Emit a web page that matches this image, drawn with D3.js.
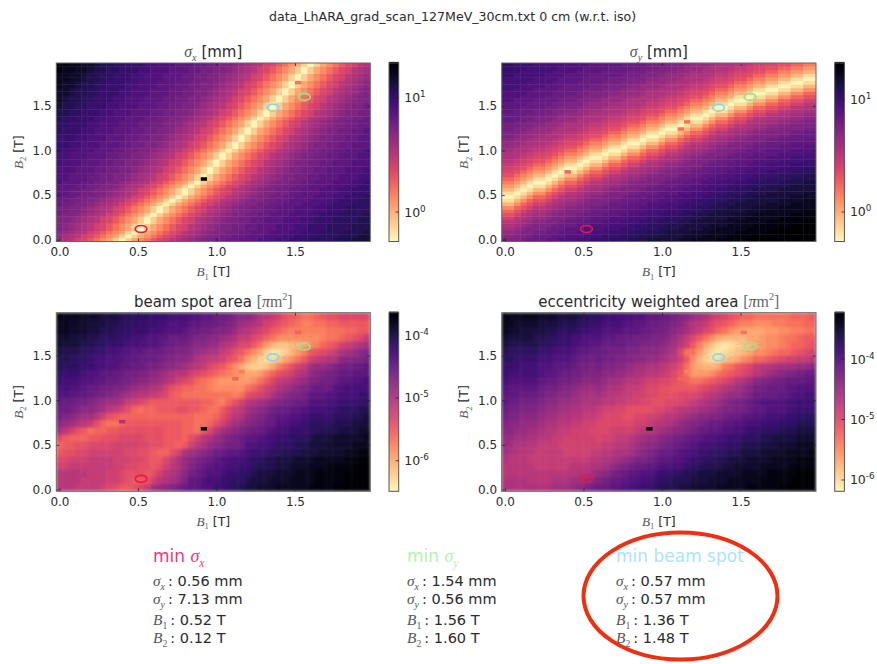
<!DOCTYPE html>
<html><head><meta charset="utf-8">
<script src="https://cdn.jsdelivr.net/npm/d3@7/dist/d3.min.js"></script>
<style>
html,body{margin:0;padding:0;background:#fff}
svg{display:block}
text{font-family:"DejaVu Sans",sans-serif;fill:#2b2b2b}
.math{font-family:"Liberation Serif",serif;font-style:italic;fill:#555}
.rm{font-family:"Liberation Serif",serif;fill:#666}
.odd{filter:blur(0.45px)}
</style></head><body>
<svg id="c" width="877" height="664"></svg>
<script>
// Levels 0..z = position on each panel's log colour range.
// sigma_x: rows bottom to top, 50 columns per row, step 0.04 T
const sigmaXRows=[
"jihfeca8630368acefhijklmmnnoopppqqqrrsssttttuuuvvv",
"kjihfeca8630368acefhijklmmnnoopppqqqrrsssttttuuuvv",
"lkjihfeca8630368acefhijklmmnnoopppqqqrrsssttttuuuv",
"mlkjihfeca8630368acefhijklmmnnoopppqqqrrsssttttuuu",
"mlkjihfeca8630368acefhijklmmnnoopppqqqrrsssttttuuu",
"mmlkjihfeca8630368acefhijklmmnnoopppqqqrrsssttttuu",
"mmlkjihfeca8630368acefhijklmmnnoopppqqqrrsssttttuu",
"nmmlkjihfeca8630368acefhijklmmnnoopppqqqrrsssttttu",
"nnmmlkjihfeca8630368acefhijklmmnnoopppqqqrrsssttt",
"nnmmlkjihfeca8630368acefhijklmmnnoopppqqqrrsssttt",
"onnmmlkjihfeca8630368acefhijklmmnnoopppqqqrrsssttt",
"oonnmmlkjihfeca8630368acefhijklmmnnoopppqqqrrssstt",
"poonnmmlkjihfeca8630368acefhijklmmnnoopppqqqrrssst",
"ppoonnmmlkjihfeca8630368acefhijklmmnnoopppqqqrrsss",
"ppoonnmmlkjihfeca8630368acefhijklmmnnoopppqqqrrsss",
"pppoonnmmlkjihfeca8630368acefhijklmmnnoopppqqqrrss",
"qpppoonnmmlkjihfeca8630368acefhijklmmnnoopppqqqrrs",
"qqpppoonnmmlkjihfeca8630368acefhijklmmnnoopppqqqrr",
"qqpppoonnmmlkjihfeca8630368acefhijklmmnnoopppqqqrr",
"qqqpppoonnmmlkjihfeca8630368acefhijklmmnnoopppqqqr",
"qqqpppoonnmmlkjihfeca8630368acefhijklmmnnoopppqqqr",
"rqqqpppoonnmmlkjihfeca8630368acefhijklmmnnoopppqqq",
"rqqqpppoonnmmlkjihfeca8630368acefhijklmmnnoopppqqq",
"rrqqqpppoonnmmlkjihfeca8630368acefhijklmmnnoopppqq",
"rrqqqpppoonnmmlkjihfeca8630368acefhijklmmnnoopppqq",
"srrqqqpppoonnmmlkjihfeca8630368acefhijklmmnnoopppq",
"ssrrqqqpppoonnmmlkjihfeca8630368acefhijklmmnnooppp",
"ssrrqqqpppoonnmmlkjihfeca8630368acefhijklmmnnooppp",
"sssrrqqqpppoonnmmlkjihfeca8630368acefhijklmmnnoopp",
"sssrrqqqpppoonnmmlkjihfeca8630368acefhijklmmnnoopp",
"tsssrrqqqpppoonnmmlkjihfeca8630368acefhijklmmnnoop",
"tsssrrqqqpppoonnmmlkjihfeca8630368acefhijklmmnnoop",
"ttsssrrqqqpppoonnmmlkjihfeca8630368acefhijklmmnnoo",
"ttsssrrqqqpppoonnmmlkjihfeca8630368acefhijklmmnnoo",
"uttsssrrqqqpppoonnmmlkjihfeca8630368acefhijklmmnno",
"uuttsssrrqqqpppoonnmmlkjihfeca8630368acefhijklmmnn",
"uuttsssrrqqqpppoonnmmlkjihfeca8630368acefhijklmmnn",
"vuuttsssrrqqqpppoonnmmlkjihfeca8630368acefhijklmmn",
"vuuttsssrrqqqpppoonnmmlkjihfeca8630368acefhijklmmn",
"wvuuttsssrrqqqpppoonnmmlkjihfeca8630368acefhijklmm",
"wvuuttsssrrqqqpppoonnmmlkjihfeca8630368acefhijklmm",
"wwvuuttsssrrqqqpppoonnmmlkjihfeca8630368acefhijklm",
"wwvuuttsssrrqqqpppoonnmmlkjihfeca8630368acefhijklm",
"xwwvuuttsssrrqqqpppoonnmmlkjihfeca8630368acefhijkl",
"xwwvuuttsssrrqqqpppoonnmmlkjihfeca8630368acefhijkl",
"xxwwvuuttsssrrqqqpppoonnmmlkjihfeca8630368acefhijk",
"xxwwvuuttsssrrqqqpppoonnmmlkjihfeca8630368acefhijk",
"yxxwwvuuttsssrrqqqpppoonnmmlkjihfeca8630368acefhij",
"yxxwwvuuttsssrrqqqpppoonnmmlkjihfeca8630368acefhij",
"yyxxwwvuuttsssrrqqqpppoonnmmlkjihfeca8630368acefhi"];
// sigma_y: columns left to right, each bottom to top, 50 values, step 0.04 T
const sigmaYColumns=[
"mlkjihfdb85202579bdefghiijkklmmnnooopppqqqrrrrssst",
"mlkjihfdb85202579bdefghiijkklmmnnooopppqqqrrrrssst",
"mmlkjihfdb85202579bdefghiijkklmmnnooopppqqqrrrrsss",
"nmmlkjihfdb85202579bdefghiijkklmmnnooopppqqqrrrrss",
"onmmlkjihfdb85202579bdefghiijkklmmnnooopppqqqrrrrs",
"oonmmlkjihfdb85202579bdefghiijkklmmnnooopppqqqrrrr",
"oonmmlkjihfdb85202579bdefghiijkklmmnnooopppqqqrrrr",
"poonmmlkjihfdb85202579bdefghiijkklmmnnooopppqqqrrr",
"ppoonmmlkjihfdb85202579bdefghiijkklmmnnooopppqqqrr",
"qppoonmmlkjihfdb85202579bdefghiijkklmmnnooopppqqqr",
"qqppoonmmlkjihfdb85202579bdefghiijkklmmnnooopppqqq",
"qqppoonmmlkjihfdb85202579bdefghiijkklmmnnooopppqqq",
"rqqppoonmmlkjihfdb85202579bdefghiijkklmmnnooopppqq",
"rrqqppoonmmlkjihfdb85202579bdefghiijkklmmnnooopppq",
"srrqqppoonmmlkjihfdb85202579bdefghiijkklmmnnoooppp",
"srrqqppoonmmlkjihfdb85202579bdefghiijkklmmnnoooppp",
"ssrrqqppoonmmlkjihfdb85202579bdefghiijkklmmnnooopp",
"tssrrqqppoonmmlkjihfdb85202579bdefghiijkklmmnnooop",
"tssrrqqppoonmmlkjihfdb85202579bdefghiijkklmmnnooop",
"ttssrrqqppoonmmlkjihfdb85202579bdefghiijkklmmnnooo",
"uttssrrqqppoonmmlkjihfdb85202579bdefghiijkklmmnnoo",
"uttssrrqqppoonmmlkjihfdb85202579bdefghiijkklmmnnoo",
"uuttssrrqqppoonmmlkjihfdb85202579bdefghiijkklmmnno",
"vuuttssrrqqppoonmmlkjihfdb85202579bdefghiijkklmmnn",
"vuuttssrrqqppoonmmlkjihfdb85202579bdefghiijkklmmnn",
"vvuuttssrrqqppoonmmlkjihfdb85202579bdefghiijkklmmn",
"vvvuuttssrrqqppoonmmlkjihfdb85202579bdefghiijkklmm",
"vvvuuttssrrqqppoonmmlkjihfdb85202579bdefghiijkklmm",
"wvvvuuttssrrqqppoonmmlkjihfdb85202579bdefghiijkklm",
"wwvvvuuttssrrqqppoonmmlkjihfdb85202579bdefghiijkkl",
"xwwvvvuuttssrrqqppoonmmlkjihfdb85202579bdefghiijkk",
"xwwvvvuuttssrrqqppoonmmlkjihfdb85202579bdefghiijkk",
"xxwwvvvuuttssrrqqppoonmmlkjihfdb85202579bdefghiijk",
"xxxwwvvvuuttssrrqqppoonmmlkjihfdb85202579bdefghiij",
"yxxxwwvvvuuttssrrqqppoonmmlkjihfdb85202579bdefghii",
"yxxxwwvvvuuttssrrqqppoonmmlkjihfdb85202579bdefghii",
"yyxxxwwvvvuuttssrrqqppoonmmlkjihfdb85202579bdefghi",
"yyyxxxwwvvvuuttssrrqqppoonmmlkjihfdb85202579bdefgh",
"yyyxxxwwvvvuuttssrrqqppoonmmlkjihfdb85202579bdefgh",
"zyyyxxxwwvvvuuttssrrqqppoonmmlkjihfdb85202579bdefg",
"zzyyyxxxwwvvvuuttssrrqqppoonmmlkjihfdb85202579bdef",
"zzyyyxxxwwvvvuuttssrrqqppoonmmlkjihfdb85202579bdef",
"zzzyyyxxxwwvvvuuttssrrqqppoonmmlkjihfdb85202579bde",
"zzzyyyxxxwwvvvuuttssrrqqppoonmmlkjihfdb85202579bde",
"zzzzyyyxxxwwvvvuuttssrrqqppoonmmlkjihfdb85202579bd",
"zzzzyyyxxxwwvvvuuttssrrqqppoonmmlkjihfdb85202579bd",
"zzzzzyyyxxxwwvvvuuttssrrqqppoonmmlkjihfdb85202579b",
"zzzzzyyyxxxwwvvvuuttssrrqqppoonmmlkjihfdb85202579b",
"zzzzzzyyyxxxwwvvvuuttssrrqqppoonmmlkjihfdb85202579",
"zzzzzzyyyxxxwwvvvuuttssrrqqppoonmmlkjihfdb85202579"];
// beam spot area: rows bottom to top, step 0.08 T, 50 columns
const spotRows=[
"hhhgg ggfed ccdeg jklmn oppqq ssttu vvwww xxxxx yyyyz zzzzz",
"hhhhg gggff edccd fhijk mppqr rsstt uvvvw wwxxx xyyyy yzzzz",
"hhhhh gggff edddc dfhij lnopq qrsst tuvvv wwwxx xyyyy yzzzz",
"ffggg ggggf feedd cdfhi kmnop qqrrs stuuu vvwww xxxyy yyzzz",
"eefff ggggf ffeed ccegi klmno pqqrr sttuu vvvww wxxxx xyyzz",
"cddee fffff feedd cbbdf ijklm ooppq rssst tuuuv vvwww wxxyy",
"bccdd eeeef fffee ddccb cfhik lmnno qqrrs tttuu vvvww wwxxx",
"ecbbb ccddd eeeed ddccc bdfhi klmno ppqrr ssttt uvvvw wwwwx",
"jhfdc abbcc ddddd ddccc bbace hjklm noopq rrsss ttuuu vvvww",
"lkjih gdbaa bcccc ccccc bbaab dfhjk lmnoo qqrrs ttttu uuvvv",
"nmlkj jhfdc bbbbb bbbbb bbaaa bdfhi klmno ppqqr sssst ttuuv",
"oonml lkjhg fdbab bcccd dccba acegh jklmn ooppq rrrss tttuu",
"poonn mlkjj igfed ccccc cccbb a9bdf hijkl mnnoo qqqrr sssst",
"qqppp onnml kjihh gfecb aaaaa aaa9a defgi klmmn pppqq rrrss",
"rrqqp oonnm mlkjj ihfdc bbaa9 88888 abdfg ijklm noooq qrrrr",
"srrrq qppoo nnmll kjihf edba9 87777 78ace ghijk mmnno ppqqr",
"tsssr qqppo onnmm lkjih hfedc ba987 6679b defhi klmnn ooppp",
"uttts srrqq ppoon nmllk jihge dca86 43346 9bdfg jkklm nnoop",
"uuttt srrqq qppoo onmml lkihg gfdca 75322 468ac fghii llmmn",
"vuuut tssrr qqppo oonnm mlkji igfdc a8631 23579 cdefg ijklm",
"wvvvu uttss srrqq qpoon nmllk kihge eca75 44556 89bcd fghij",
"wwvvv uuttt ssrrq qppoo onmml lkjig gedba 88888 889aa bcdeg",
"xxwww vvuut ttsss rrqqq poonn mmlki hgfec ba999 999aa abbcc",
"xxwww vvvuu tttss srrqq qppoo onmlk jihfe dcba9 9aabb ccccc",
"yxxxw wwvvv uuttt sssrr rqqpp oonml lkihg fdcba abcdd eeeee"
].map(s=>s.replace(/\s/g,""));
// eccentricity weighted area: rows bottom to top, step 0.08 T, 50 columns
const eccRows=[
"iiiii iiijj jklmn ooppq rrsst uuuvv wwwwx xxxxy yyyyz zzzzz",
"iiiih hhhii ijjkl mnoop qqrrs ttuuu vvvww wxxxx xyyyy yzzzz",
"hhhhh hhhhh hhiij klmno ppqqr ssttu uvvvw wwwxx xxyyy yyzzz",
"hhhhh ggggg ghhhi ijklm noopp qqrrs ttuuu vvwww wxxxx xyyyy",
"ihhhg ggggg ggggh hiijk lmmno ppqqr ssttu uvvvw wwwxx xxyyy",
"jiihh ggggg ffffg ghhii jklmn oopqq rsstt tuuvv vwwww xxxxy",
"kjiih hgggf fffff fgghh ijkll mnoop qrrrs sttuu uvvvw wwxxx",
"kkjji ihhgg fffff effgg hijkk lmnno ppqqr rsstt tuuvv vvwww",
"llkkj jihhg gfffe eefff fghhi jkllm noopp qqrrs stttu uuvvv",
"mllkk kjiih hggff eeeee effgh hijkl mmnoo ppqqr rssst ttuuu",
"nmmll lkjji ihhgg feeed deeff ghhij kllmm noopp qqrrr ssttt",
"onnmm mlkkj jiihh gffee dddde efghh ijjkl mmnno ppqqq rrsss",
"poonn nmllk kjjii ihhgg ffeed deeef ghijk lmnno pqqqq rrsss",
"pppoo onmml lkjji jihhg gffee dddee efghi jkklm oooop pqqrr",
"qpppp ponnm mlkkj kjiih ggfee ddccc cdefg hijkl nnooo ppqqq",
"rqqqq qpoon nmmll lkjji hhgff eedcb aabcd efhij lmmnn ooopp",
"srrrr rqppo onnmm mllkk jiihh gfeca 7778a bcdef hijkl mmnoo",
"sssrr rqqpp ponnm nmmll kjjii hgfda 76556 9acde ghhij jjkkl",
"ttsss srrqq qpoon onnmm mllkk jihfc 85322 45689 bbcde ffggh",
"utttt tssrr rqppo oonnn mmlll kjiea a7421 23456 889ab bcdef",
"vuuuu uttss srqqp poooo nnmmm lkjhf c9642 12345 67889 abbcd",
"wvvvv uutts srrqq qppoo onnnm mlkig eca86 55556 67889 aabcc",
"xwwvv vvuut ttssr rqqqp ppoon nmlkj hgedb a8766 66778 899aa",
"xxwww wvvvu uutts srrrq qppoo nnmlj ihged cba99 88899 aaabb",
"yxxxx xwwwv vvuut tssrr rqqpp oonml kjigf edcbb aaaaa abbbc"
].map(s=>s.replace(/\s/g,""));
// Single odd cells [B1, B2, level]
const outliersX=[[0.92,0.68,"z"],[1.52,1.76,"a"]];
const outliersY=[[0.40,0.76,"b"],[1.12,1.24,"a"],[1.16,1.32,"a"]];
const outliersSpot=[[0.92,0.68,"z"],[0.40,0.76,"i"],[1.12,1.24,"b"],[1.16,1.32,"9"],[1.52,1.76,"b"]];
const outliersEcc=[[0.92,0.68,"z"],[1.12,1.24,"b"],[1.16,1.32,"9"],[1.52,1.76,"a"]];
// Minimum markers
const markerB1=[0.52,1.56,1.36];
const markerB2=[0.12,1.60,1.48];
const markerColors=["#e8174a","#90e68f","#87d6f0"];
const xTicks=[0,0.5,1,1.5];
const yTicks=[0,0.5,1,1.5];
const logRanges=[[-0.257,1.30],[-0.262,1.322],[-6.486,-3.645],[-6.187,-3.233]];
const cbExponents=[[0,1],[0,1],[-6,-5,-4],[-6,-5,-4]];
const infoSx=["0.56","1.54","0.57"];
const infoSy=["7.13","0.56","0.57"];
const infoB1=["0.52","1.56","1.36"];
const infoB2=["0.12","1.60","1.48"];
const infoHeadColors=["#ea3a70","#b3f2b3","#aee3f7"];

const svg=d3.select("#c");
const clean=s=>s.replace(/\s/g,"");
function math(sel,parts,size){
  let shift=0;
  parts.forEach(([t,k,dx])=>{
    const ts=sel.append("tspan").text(t);
    const target=(k==="b"||k==="s")?0.28:(k==="u"?-0.42:0);
    const fs=(k==="b"||k==="s"||k==="u")?size*0.68:(k==="n"?size:size*1.06);
    ts.attr("font-size",fs).attr("dy",(target-shift)*size);
    if(dx)ts.attr("dx",dx);
    shift=target;
    if(k==="i"||k==="b")ts.attr("class","math");
    if(k==="r"||k==="s"||k==="u")ts.attr("class","rm");
  });
}
function panel(cfg){
  const g=svg.append("g");
  const [L,R,T,B]=cfg.box;
  const x=d3.scaleLinear([-0.02,1.98],[L,R]);
  const y=d3.scaleLinear([-0.02,1.98],[B,T]);
  const [lo,hi]=cfg.range;
  const color=d3.scaleSequentialLog([10**lo,10**hi],t=>d3.interpolateMagma(1-t*0.985-0.015));
  const val=c=>10**(lo+(parseInt(c,36)/35)*(hi-lo));
  const cells=[];
  const fit=s=>{const c=clean(s);return c.padEnd(50,c.slice(-1)).slice(0,50).split("");};
  if(cfg.columns){
    cfg.columns.forEach((col,i)=>fit(col).forEach((c,j)=>cells.push({i,j,w:1,h:1,v:val(c)})));
  }else{
    const step=50/cfg.rows.length;
    cfg.rows.forEach((row,r)=>fit(row).forEach((c,i)=>cells.push({i,j:r*step,w:1,h:step,v:val(c)})));
  }
  const id="clip"+cfg.id;
  svg.append("clipPath").attr("id",id).append("rect").attr("x",L).attr("y",T).attr("width",R-L).attr("height",B-T);
  const clipG=g.append("g").attr("clip-path",`url(#${id})`);
  const hg=clipG.append("g").style("filter",`blur(${cfg.blur}px)`);
  hg.selectAll("rect.c").data(cells).join("rect").attr("class","c")
    .attr("x",d=>x(d.i*0.04-0.02)-0.2).attr("width",d=>x(0.04*d.w)-x(0)+0.4)
    .attr("y",d=>y((d.j+d.h)*0.04-0.02)-0.2).attr("height",d=>y(0)-y(0.04*d.h)+0.4)
    .attr("fill",d=>color(d.v));
  clipG.append("g").attr("class","odd").selectAll("rect.o").data(cfg.outliers).join("rect").attr("class","o")
    .attr("x",d=>x(d[0]-0.02)).attr("width",x(0.04)-x(0))
    .attr("y",d=>y(d[1]+0.02)).attr("height",y(0)-y(0.04))
    .attr("fill",d=>color(val(d[2])));
  g.selectAll("ellipse.m").data(markerB1.map((b,i)=>({b1:b,b2:markerB2[i],c:markerColors[i]}))).join("ellipse")
    .attr("class","m").attr("cx",d=>x(d.b1)).attr("cy",d=>y(d.b2)).attr("rx",5.8).attr("ry",3.5)
    .attr("fill","none").attr("stroke",d=>d.c).attr("stroke-width",1.7);
  const axes=[
    [d3.axisBottom(x),`translate(0,${B})`,true],
    [d3.axisTop(x),`translate(0,${T})`,false],
    [d3.axisLeft(y),`translate(${L},0)`,true],
    [d3.axisRight(y),`translate(${R},0)`,false]];
  axes.forEach(([a,tr,lab],k)=>{
    a.tickValues(k<2?xTicks:yTicks).tickSizeOuter(0).tickSizeInner(-3).tickPadding(k<2?6:4.6).tickFormat(lab?d3.format(".1f"):"");
    const ag=g.append("g").attr("transform",tr).call(a);
    ag.select(".domain").remove();
    ag.selectAll("line").attr("stroke","#222").attr("stroke-width",0.8);
    ag.selectAll("text").attr("font-size",12).style("font-family",'"DejaVu Sans"').attr("fill","#333");
  });
  g.append("rect").attr("x",L).attr("y",T).attr("width",R-L).attr("height",B-T).attr("fill","none").attr("stroke","#666").attr("stroke-width",1);
  math(g.append("text").attr("x",(L+R)/2).attr("y",T-6).attr("text-anchor","middle"),cfg.title,cfg.titleSize);
  math(g.append("text").attr("x",(L+R)/2).attr("y",B+34.5).attr("text-anchor","middle"),[["B","i"],["1","s"],[" [T]","n"]],12.5);
  math(g.append("text").attr("transform",`translate(${L-33.5},${(T+B)/2}) rotate(-90)`).attr("text-anchor","middle"),[["B","i"],["2","s"],[" [T]","n"]],12.5);
  const bw=9.7,bx=R+18.7;
  const cy=d3.scaleLinear([lo,hi],[B,T]);
  const steps=d3.range(0,180).map(i=>lo+(hi-lo)*i/179);
  g.selectAll("rect.b").data(steps).join("rect").attr("class","b")
    .attr("x",bx).attr("width",bw).attr("y",d=>cy(d)-1.1).attr("height",1.4)
    .attr("fill",d=>color(10**d));
  g.append("rect").attr("x",bx).attr("y",T).attr("width",bw).attr("height",B-T).attr("fill","none").attr("stroke","#555").attr("stroke-width",1);
  const tg=g.selectAll("g.t").data(cfg.exps).join("g").attr("class","t").attr("transform",d=>`translate(${bx+bw},${cy(d)})`);
  tg.append("line").attr("x1",-3).attr("x2",0).attr("stroke","#222").attr("stroke-width",0.8);
  tg.each(function(d){
    const t=d3.select(this).append("text").attr("x",5.5).attr("y",4.5);
    t.append("tspan").attr("font-size",12.5).text("10");
    t.append("tspan").attr("font-size",8.8).attr("dy",-5).text(String(d));
  });
}
const sx=[["σ","i"],["x","b"]],sy=[["σ","i"],["y","b"]];
const areaUnit=[["[","r"],["π","i"],["m","r"],["2","u"],["]","r"]];
const boxes=[[56.3,370.3,63,241.5],[501.7,816,63,241.5],[56.3,370.3,312.7,491.3],[501.7,816,312.7,491.3]];
panel({id:1,blur:0.7,box:boxes[0],range:logRanges[0],rows:sigmaXRows,outliers:outliersX,exps:cbExponents[0],title:sx.concat([[" [mm]","n"]]),titleSize:15});
panel({id:2,blur:0.7,box:boxes[1],range:logRanges[1],columns:sigmaYColumns,outliers:outliersY,exps:cbExponents[1],title:sy.concat([[" [mm]","n"]]),titleSize:15});
panel({id:3,blur:1.4,box:boxes[2],range:logRanges[2],rows:spotRows,outliers:outliersSpot,exps:cbExponents[2],title:[["beam spot area ","n"]].concat(areaUnit),titleSize:15});
panel({id:4,blur:1.6,box:boxes[3],range:logRanges[3],rows:eccRows,outliers:outliersEcc,exps:cbExponents[3],title:[["eccentricity weighted area ","n"]].concat(areaUnit),titleSize:15});

svg.append("text").attr("x",452.5).attr("y",21).attr("text-anchor","middle").attr("font-size",12.6).text("data_LhARA_grad_scan_127MeV_30cm.txt 0 cm (w.r.t. iso)");

const columnsX=[153,407,616];
const heads=[[["min ","n"],["σ","i"],["x","b"]],[["min ","n"],["σ","i"],["y","b"]],[["min beam spot","n"]]];
columnsX.forEach((cxp,i)=>{
  const h=svg.append("text").attr("x",cxp).attr("y",562);
  math(h,heads[i],17);
  h.selectAll("tspan").style("fill",infoHeadColors[i]);
  const lines=[
    [sx,infoSx[i]+" mm",586],[sy,infoSy[i]+" mm",604],
    [[["B","i"],["1","s"]],infoB1[i]+" T",625],[[["B","i"],["2","s"]],infoB2[i]+" T",643]];
  lines.forEach(([lab,val,yy])=>{
    math(svg.append("text").attr("x",cxp).attr("y",yy),lab.concat([[": "+val,"n",3]]),14.5);
  });
});
svg.append("ellipse").attr("cx",680.5).attr("cy",596).attr("rx",97).attr("ry",63.5).attr("fill","none").attr("stroke","#ee2f12").attr("stroke-width",4);
</script>
</body></html>
